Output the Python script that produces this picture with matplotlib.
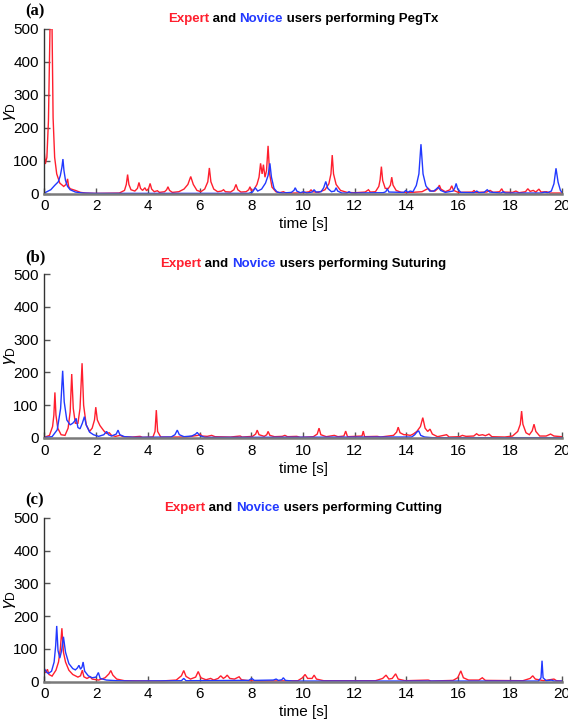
import matplotlib
matplotlib.use("Agg")
import matplotlib.pyplot as plt
from matplotlib.offsetbox import TextArea, HPacker, AnchoredOffsetbox

# ---------------- data ----------------
x_ticks = [0, 2, 4, 6, 8, 10, 12, 14, 16, 18, 20]
y_ticks = [0, 100, 200, 300, 400, 500]
tasks = ["PegTx", "Suturing", "Cutting"]
panel_labels = ["(a)", "(b)", "(c)"]

# (a) PegTx
a_red_t = [0.00, 0.04, 0.10, 0.16, 0.22, 0.30, 0.34, 0.40, 0.48, 0.60, 0.75, 0.84, 0.90, 0.94, 1.00, 1.20, 1.40, 1.60, 2.00,
           2.90, 3.10, 3.17, 3.22, 3.27, 3.35, 3.50, 3.60, 3.66, 3.72, 3.80, 3.89, 3.95, 4.03, 4.09, 4.15, 4.25, 4.37, 4.45,
           4.65, 4.73, 4.78, 4.84, 4.95, 5.20, 5.40, 5.55, 5.66, 5.76, 5.90, 6.05, 6.20, 6.32, 6.38, 6.44, 6.55, 6.70, 6.85,
           6.93, 7.00, 7.20, 7.33, 7.41, 7.48, 7.60, 7.80, 7.90, 7.95, 8.00, 8.10, 8.22, 8.30, 8.36, 8.42, 8.47, 8.53, 8.59,
           8.65, 8.71, 8.80, 8.95, 9.10, 9.24, 9.35, 9.70, 10.00, 10.25, 10.31, 10.37, 10.60, 10.85, 11.00, 11.08, 11.13,
           11.18, 11.28, 11.45, 11.70, 12.00, 12.40, 12.53, 12.60, 12.80, 12.93, 12.98, 13.03, 13.08, 13.18, 13.30, 13.38,
           13.43, 13.48, 13.60, 13.80, 14.20, 14.60, 14.84, 14.95, 15.10, 15.22, 15.27, 15.33, 15.50, 15.68, 15.75, 15.82,
           16.00, 16.55, 16.61, 16.68, 17.10, 17.23, 17.35, 17.60, 17.68, 17.75, 18.10, 18.23, 18.35, 18.60, 18.69, 18.78,
           18.90, 19.00, 19.12, 19.20, 19.42, 19.55, 20.00]
a_red_v = [125, 90, 110, 220, 500, 500, 230, 110, 60, 32, 22, 28, 45, 22, 15, 10, 4, 2, 1,
           2, 10, 28, 58, 28, 12, 8, 16, 34, 16, 10, 18, 9, 15, 31, 14, 6, 9, 4,
           6, 12, 21, 10, 4, 6, 14, 28, 52, 28, 10, 6, 14, 36, 78, 36, 14, 6, 8,
           12, 6, 5, 12, 28, 12, 5, 6, 12, 21, 10, 12, 28, 50, 92, 60, 88, 50, 70,
           145, 60, 20, 6, 3, 6, 2, 2, 3, 6, 12, 6, 4, 12, 30, 60, 117,
           60, 28, 10, 4, 3, 5, 12, 5, 6, 22, 42, 82, 40, 16, 16, 26,
           50, 26, 10, 4, 4, 6, 16, 8, 8, 16, 26, 14, 6, 12, 24, 10,
           4, 5, 10, 4, 5, 10, 4, 6, 15, 5, 4, 8, 3, 6, 15, 7,
           10, 5, 14, 5, 6, 2, 2]
a_blue_t = [0.00, 0.10, 0.25, 0.40, 0.54, 0.62, 0.68, 0.72, 0.76, 0.82, 0.90, 1.00, 1.20, 1.50, 2.00, 7.90, 8.05, 8.15, 8.25,
            8.40, 8.55, 8.65, 8.72, 8.78, 8.88, 9.00, 9.20, 9.55, 9.65, 9.70, 9.76, 9.90, 10.01, 10.15, 10.35, 10.43, 10.50,
            10.70, 10.80, 10.88, 10.96, 11.10, 11.22, 11.28, 11.34, 11.50, 11.70, 11.78, 11.86, 13.10, 13.20, 13.26, 13.32,
            13.90, 13.97, 14.05, 14.14, 14.25, 14.38, 14.48, 14.56, 14.64, 14.75, 14.90, 15.05, 15.15, 15.23, 15.32, 15.50,
            15.80, 15.87, 15.92, 15.98, 16.10, 16.60, 16.72, 16.80, 17.00, 17.12, 17.22, 17.65, 17.74, 17.82, 19.20, 19.35,
            19.45, 19.60, 19.70, 19.78, 19.86, 19.95, 20.00]
a_blue_v = [2, 6, 12, 25, 36, 55, 80, 105, 70, 40, 22, 12, 5, 2, 1, 1, 5, 18, 8,
            14, 32, 55, 92, 50, 16, 5, 2, 4, 10, 18, 8, 3, 6, 2, 5, 12, 5,
            6, 18, 37, 16, 6, 8, 18, 8, 2, 2, 6, 2, 3, 6, 15, 5,
            4, 10, 4, 8, 6, 25, 60, 150, 60, 24, 8, 8, 14, 20, 10, 4,
            8, 18, 31, 14, 4, 3, 8, 3, 4, 12, 5, 2, 6, 2, 2, 5,
            3, 8, 30, 77, 35, 10, 5]

# (b) Suturing
b_red_t = [0.00, 0.20, 0.32, 0.37, 0.41, 0.45, 0.52, 0.65, 0.80, 0.92, 1.00, 1.06, 1.12, 1.20, 1.30, 1.38, 1.46, 1.52, 1.62,
           1.75, 1.85, 1.94, 1.99, 2.05, 2.15, 2.30, 2.40, 2.51, 2.60, 2.75, 2.93, 3.05, 3.40, 3.70, 3.80, 4.20, 4.28, 4.33,
           4.38, 4.50, 5.50, 5.95, 6.02, 6.10, 6.30, 6.47, 6.60, 7.20, 7.57, 7.65, 8.05, 8.17, 8.23, 8.30, 8.50, 8.60, 8.65,
           8.72, 8.90, 9.20, 9.30, 9.40, 9.76, 9.90, 10.40, 10.55, 10.62, 10.69, 10.90, 11.21, 11.35, 11.58, 11.65, 11.72,
           12.28, 12.33, 12.38, 12.87, 13.00, 13.50, 13.62, 13.68, 13.75, 13.90, 14.00, 14.15, 14.26, 14.40, 14.54, 14.63,
           14.72, 14.82, 14.91, 15.00, 15.20, 15.55, 15.65, 16.05, 16.16, 16.30, 16.60, 16.71, 16.80, 16.94, 17.05, 17.19,
           17.30, 17.80, 18.10, 18.30, 18.40, 18.45, 18.50, 18.62, 18.75, 18.86, 18.93, 19.00, 19.15, 19.40, 19.57, 19.70,
           20.00]
b_red_v = [2, 8, 35, 70, 139, 70, 30, 10, 8, 30, 80, 195, 90, 45, 45, 90, 228, 100, 40,
           20, 30, 55, 94, 55, 38, 22, 14, 16, 8, 5, 8, 4, 3, 5, 2, 3, 20, 85,
           20, 3, 3, 8, 12, 6, 5, 8, 4, 3, 6, 3, 5, 12, 24, 10, 5, 10, 20,
           8, 4, 5, 8, 4, 5, 2, 4, 12, 30, 10, 4, 8, 4, 6, 21, 4,
           6, 21, 4, 5, 3, 8, 18, 33, 16, 10, 10, 8, 12, 20, 35, 62,
           30, 20, 27, 12, 4, 10, 3, 4, 8, 5, 6, 13, 8, 10, 7, 12,
           4, 3, 6, 20, 42, 82, 42, 16, 10, 22, 42, 20, 6, 6, 12, 6,
           4]
b_blue_t = [0.00, 0.30, 0.50, 0.63, 0.71, 0.77, 0.87, 1.00, 1.10, 1.18, 1.23, 1.30, 1.38, 1.47, 1.55, 1.62, 1.75, 1.90, 2.10,
            2.30, 2.41, 2.48, 2.60, 2.78, 2.85, 2.92, 3.10, 3.50, 4.90, 5.05, 5.14, 5.22, 5.40, 5.70, 5.85, 5.91, 6.00, 6.20,
            7.00, 14.20, 14.32, 14.40, 14.47, 14.55, 14.70, 15.00, 20.00]
b_blue_v = [2, 4, 25, 90, 205, 110, 55, 40, 45, 52, 60, 32, 28, 45, 65, 40, 18, 10, 5,
            10, 20, 10, 6, 12, 24, 10, 4, 2, 3, 10, 24, 10, 4, 6, 12, 17, 8, 2,
            2, 3, 10, 18, 22, 8, 3, 1, 1]

# (c) Cutting
c_red_t = [0.00, 0.06, 0.12, 0.18, 0.30, 0.45, 0.55, 0.62, 0.68, 0.74, 0.82, 0.95, 1.10, 1.30, 1.40, 1.47, 1.53, 1.65, 1.77,
           1.85, 2.10, 2.35, 2.50, 2.57, 2.65, 2.80, 3.10, 4.50, 5.10, 5.30, 5.39, 5.48, 5.65, 5.85, 5.95, 6.05, 6.25, 6.43,
           6.55, 6.72, 6.82, 6.92, 7.00, 7.07, 7.17, 7.35, 7.53, 7.62, 7.90, 8.40, 9.80, 9.98, 10.08, 10.18, 10.35, 10.43,
           10.52, 10.80, 12.80, 13.08, 13.21, 13.32, 13.45, 13.58, 13.68, 13.95, 14.84, 14.95, 15.80, 15.98, 16.10, 16.20,
           16.40, 16.80, 16.93, 17.05, 18.50, 18.78, 18.88, 18.98, 19.30, 19.70, 19.80, 20.00]
c_red_v = [30, 28, 38, 22, 17, 35, 60, 100, 163, 90, 60, 35, 22, 14, 18, 35, 15, 10, 15,
           8, 5, 12, 24, 34, 20, 8, 3, 2, 5, 18, 34, 16, 8, 14, 31, 12, 6, 10,
           5, 10, 18, 10, 14, 20, 10, 8, 15, 6, 3, 2, 3, 12, 22, 10, 10, 20,
           8, 3, 3, 10, 20, 8, 10, 24, 8, 3, 5, 2, 4, 12, 33, 12,
           5, 5, 12, 4, 3, 10, 18, 8, 3, 8, 3, 2]
c_blue_t = [0.00, 0.08, 0.15, 0.28, 0.38, 0.44, 0.48, 0.53, 0.60, 0.67, 0.74, 0.82, 0.95, 1.10, 1.20, 1.28, 1.34, 1.40, 1.46,
            1.50, 1.56, 1.70, 1.85, 2.00, 2.09, 2.16, 2.40, 2.80, 3.50, 5.30, 5.39, 5.48, 7.90, 8.02, 8.12, 8.85, 8.96, 9.05,
            9.18, 9.24, 9.32, 9.60, 19.10, 19.20, 19.24, 19.28, 19.40, 19.60, 19.70, 20.00]
c_blue_v = [40, 30, 25, 32, 60, 110, 170, 95, 72, 95, 137, 90, 55, 40, 36, 42, 50, 38, 45,
            60, 32, 18, 12, 14, 28, 10, 5, 3, 2, 3, 10, 3, 4, 10, 4, 5, 8, 4,
            6, 12, 4, 2, 2, 12, 64, 12, 3, 5, 2, 2]

series = [
    (a_red_t, a_red_v, a_blue_t, a_blue_v),
    (b_red_t, b_red_v, b_blue_t, b_blue_v),
    (c_red_t, c_red_v, c_blue_t, c_blue_v),
]

# ---------------- styling ----------------
RED = "#ff1f2e"
BLUE = "#2239ff"
SANS = ["Liberation Sans", "DejaVu Sans"]
plt.rcParams["font.family"] = SANS
plt.rcParams["mathtext.fontset"] = "custom"
plt.rcParams["mathtext.rm"] = "Liberation Sans"
plt.rcParams["mathtext.it"] = "Liberation Sans:italic"

fig = plt.figure(figsize=(5.68, 7.2), dpi=100)

W, H = 568.0, 720.0
ax_left, ax_right = 44.3, 561.7
ax_tops = [28.7, 274.0, 517.7]
ax_bots = [193.7, 438.0, 681.7]

for i in range(3):
    bottom = 1 - ax_bots[i] / H
    height = (ax_bots[i] - ax_tops[i]) / H
    ax = fig.add_axes([ax_left / W, bottom, (ax_right - ax_left) / W, height])
    rt, rv, bt, bv = series[i]
    ax.plot(rt, rv, color=RED, lw=1.0, solid_joinstyle="miter")
    ax.plot(bt, bv, color=BLUE, lw=1.0, solid_joinstyle="miter")
    ax.set_xlim(0, 20)
    ax.set_ylim(0, 500)
    ax.set_xticks(x_ticks)
    ax.set_yticks(y_ticks)
    for s in ("top", "right"):
        ax.spines[s].set_visible(False)
    ax.spines["left"].set_color("#333333")
    ax.spines["left"].set_linewidth(1.0)
    ax.spines["bottom"].set_color("#7a7a7a")
    ax.spines["bottom"].set_linewidth(1.8)
    ax.tick_params(direction="in", length=4, width=1.0, color="#555555",
                   labelsize=11, labelcolor="black", pad=4)
    ax.set_xlabel("time [s]", fontsize=11, labelpad=3)
    ax.set_ylabel(r"$\gamma_{\mathrm{D}}$", fontsize=12.5)
    ax.yaxis.set_label_coords(-0.05, 0.5)

    # coloured title
    tp = dict(weight="bold", size=9.5)
    parts = [("Expert", RED), (" and ", "black"), ("Novice", BLUE),
             (" users performing " + tasks[i], "black")]
    box = HPacker(children=[TextArea(s, textprops=dict(color=c, **tp)) for s, c in parts],
                  sep=0, pad=0, align="baseline")
    anch = AnchoredOffsetbox(loc="lower center", child=box, pad=0, frameon=False,
                             bbox_to_anchor=(0.5, 1.0 + 4 / (ax_bots[i] - ax_tops[i])),
                             bbox_transform=ax.transAxes, borderpad=0)
    ax.add_artist(anch)

    fig.text(25 / W, 1 - (ax_tops[i] - 17) / H, panel_labels[i], family=["Liberation Serif", "DejaVu Serif"],
             weight="bold", size=12, ha="left", va="center")

fig.savefig("out.png", dpi=100)
